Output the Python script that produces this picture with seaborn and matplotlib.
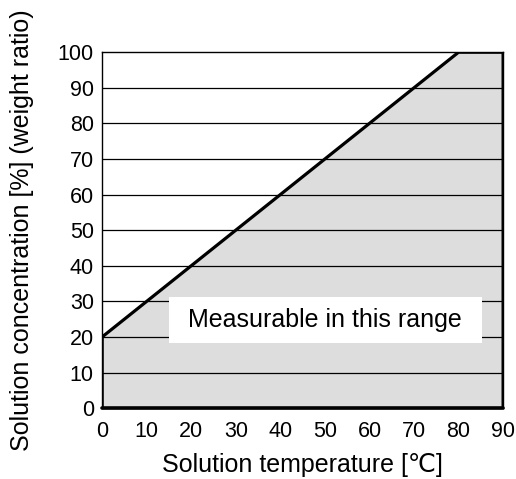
import matplotlib
matplotlib.use("Agg")
import matplotlib.pyplot as plt
from matplotlib.patches import Rectangle
import seaborn as sns
import pandas as pd

# Boundary of measurable range
temperature = [0, 80, 90]
concentration = [20, 100, 100]
x_ticks = [0, 10, 20, 30, 40, 50, 60, 70, 80, 90]
y_ticks = [0, 10, 20, 30, 40, 50, 60, 70, 80, 90, 100]
label_text = "Measurable in this range"

sns.set_theme(style="white")
plt.rcParams['font.family'] = ['Liberation Sans', 'DejaVu Sans']

df = pd.DataFrame({"t": temperature, "c": concentration})

fig = plt.figure(figsize=(5.16, 4.79), dpi=100)
ax = fig.add_axes([0.198, 0.148, 0.777, 0.743])

for y in y_ticks[1:-1]:
    ax.axhline(y, color="black", lw=0.9, zorder=2)

ax.fill_between(df["t"], 0, df["c"], color="#dcdddc", zorder=1)
poly_x = [temperature[0]] + list(df["t"]) + [temperature[-1]]
poly_y = [0] + list(df["c"]) + [0]
sns.lineplot(x=poly_x, y=poly_y, sort=False, color="black", lw=2.3, ax=ax, zorder=4,
             estimator=None)
ax.plot([0, 90], [0, 0], color="black", lw=2.6, zorder=4, clip_on=False)

ax.set_xlim(0, 90)
ax.set_ylim(0, 100)
ax.set_xticks(x_ticks)
ax.set_yticks(y_ticks)
ax.tick_params(axis="x", direction="in", length=8, width=1, color="black",
               labelsize=15.5, pad=9, labelcolor="black")
ax.tick_params(axis="y", length=0, labelsize=15.5, pad=6, labelcolor="black")
for s in ax.spines.values():
    s.set_color("black")
    s.set_linewidth(1.0)

ax.set_xlabel("Solution temperature [\u2103]", fontsize=18, color="black", labelpad=8)
ax.set_ylabel("Solution concentration [%] (weight ratio)", fontsize=18, color="black", labelpad=17)

ax.add_patch(Rectangle((15.0, 18.3), 70.3, 12.9, facecolor="white", edgecolor="none", zorder=3))
ax.text(50.1, 24.7, label_text, ha="center", va="center", fontsize=18, color="black",
        zorder=5)

fig.savefig("out.png", dpi=100)
